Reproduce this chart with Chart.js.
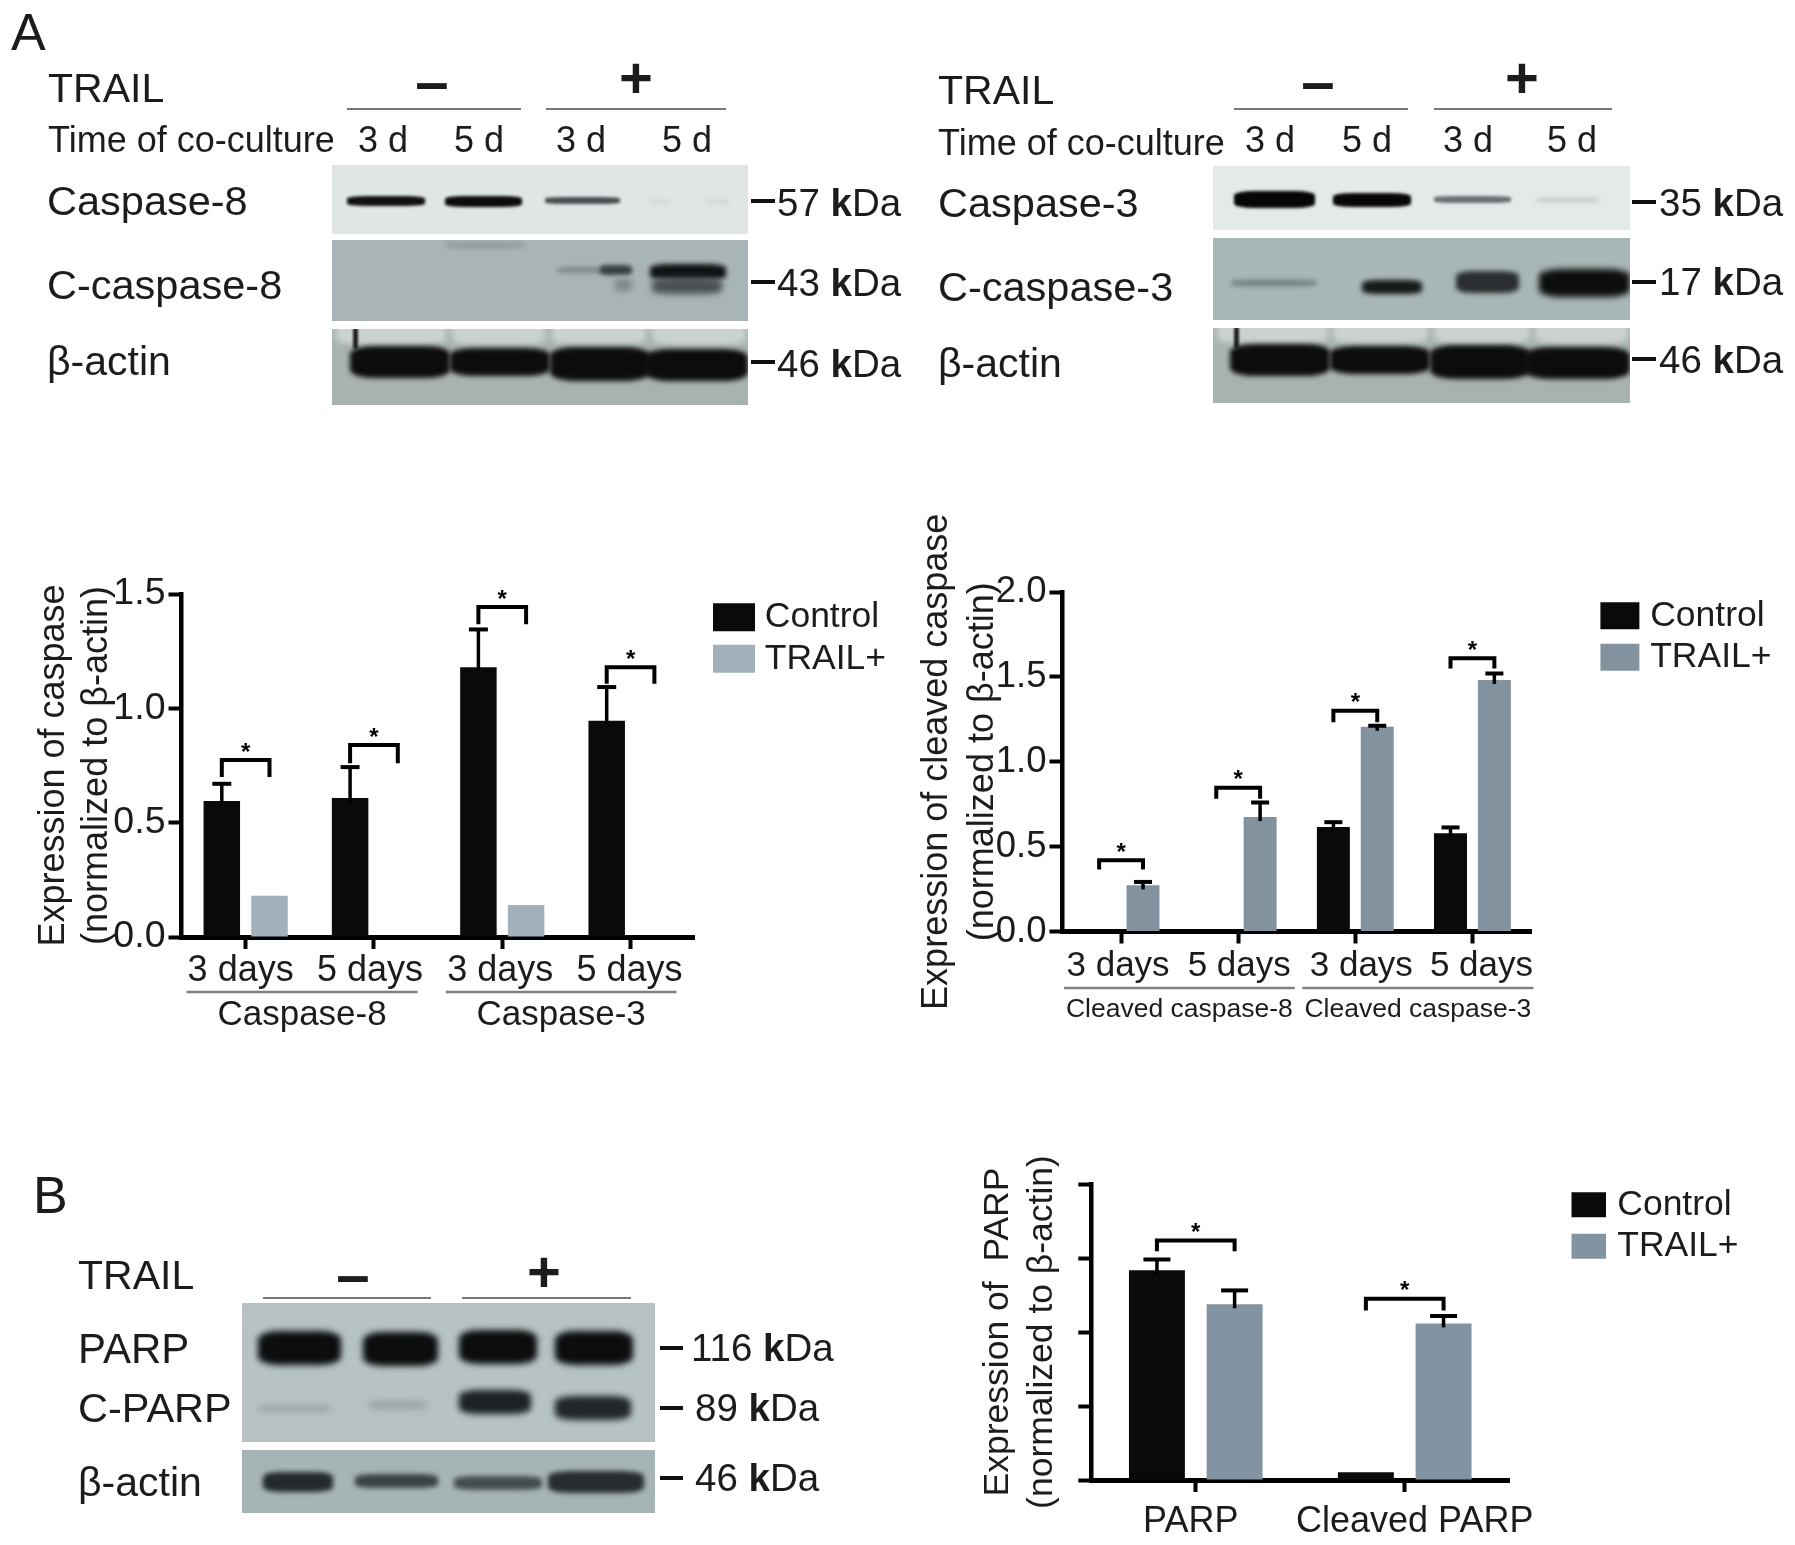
<!DOCTYPE html>
<html>
<head>
<meta charset="utf-8">
<title>TRAIL caspase and PARP expression</title>
<script src="https://cdn.jsdelivr.net/npm/chart.js@4/dist/chart.umd.js"></script>
<style>
    body { margin: 0; background: #fff; width: 1795px; height: 1545px; overflow: hidden; position: relative;
           font-family: "Liberation Sans", Arial, sans-serif; color: #1c1c1c; filter: blur(0.6px); }
    canvas { position: absolute; }
    .txt { position: absolute; white-space: nowrap; line-height: 0; }
    .shape { position: absolute; }
    .panel { position: absolute; overflow: hidden; }
    .band { position: absolute; }
</style>
</head>
<body>
<script>
// panel A, total caspase
const casDays = ["3 days", "5 days", "3 days", "5 days"];
const casControl = [0.595, 0.608, 1.18, 0.946];
const casTrail = [0.18, 0, 0.14, 0];
const casControlErr = [0.67, 0.743, 1.345, 1.093];
const casTrailErr = [null, null, null, null];
const casBracketTop = [0.774, 0.84, 1.443, 1.18];
const casBracketLeg = [0.70, 0.76, 1.368, 1.108];
const casGroups = ["Caspase-8", "Caspase-3"];

// panel A, cleaved caspase
const clvDays = ["3 days", "5 days", "3 days", "5 days"];
const clvControl = [0, 0, 0.615, 0.579];
const clvTrail = [0.272, 0.674, 1.206, 1.482];
const clvControlErr = [null, null, 0.644, 0.613];
const clvTrailErr = [0.292, 0.76, 1.212, 1.52];
const clvBracketTop = [0.42, 0.847, 1.30, 1.61];
const clvBracketLeg = [0.365, 0.782, 1.232, 1.549];
const clvGroups = ["Cleaved caspase-8", "Cleaved caspase-3"];

// panel B, PARP (axis has no printed numbers, 0-2 is only a working scale)
const parpNames = ["PARP", "Cleaved PARP"];
const parpControl = [1.418, 0.052];
const parpTrail = [1.187, 1.058];
const parpControlErr = [1.49, null];
const parpTrailErr = [1.281, 1.108];
const parpBracketTop = [1.618, 1.225];
const parpBracketLeg = [1.546, 1.146];

const FONT = '"Liberation Sans", Arial, sans-serif';
const INK = "#1c1c1c";

// error bars, significance brackets, group lines and legend placement
const figurePlugin = {
    id: "figure",
    beforeDraw(chart, args, opts) {
        // legend sits outside the plot, so its clip box has to move with it
        const legend = chart.legend;
        legend.left = opts.legendX - legend.options.labels.padding;
        legend.top = opts.legendY - legend.options.labels.padding;
        legend.right = chart.width;
        legend.bottom = chart.height;

        // the printed tick labels are not quite centred under their ticks
        const xs = chart.scales.x;
        xs.getLabelItems().forEach((item, i) => {
            item.options.translation[0] = xs.getPixelForTick(i) + opts.labelShift[i];
        });
    },
    afterDatasetsDraw(chart, args, opts) {
        const ctx = chart.ctx;
        const y = chart.scales.y;
        ctx.save();
        ctx.strokeStyle = "#000";
        ctx.fillStyle = "#000";

        // error bars
        opts.errors.forEach((errs, ds) => {
            const meta = chart.getDatasetMeta(ds);
            errs.forEach((v, i) => {
                if (v === null) return;
                const x = meta.data[i].x;
                ctx.lineWidth = 3.5;
                ctx.beginPath();
                ctx.moveTo(x, meta.data[i].y + 4);
                ctx.lineTo(x, y.getPixelForValue(v));
                ctx.stroke();
                ctx.lineWidth = 4;
                ctx.beginPath();
                ctx.moveTo(x - opts.capWidth / 2, y.getPixelForValue(v));
                ctx.lineTo(x + opts.capWidth / 2, y.getPixelForValue(v));
                ctx.stroke();
            });
        });

        // brackets with a star above
        const left = chart.getDatasetMeta(0);
        const right = chart.getDatasetMeta(1);
        opts.bracketTop.forEach((top, i) => {
            const x1 = left.data[i].x;
            const x2 = right.data[i].x;
            ctx.lineWidth = 4;
            ctx.beginPath();
            ctx.moveTo(x1, y.getPixelForValue(opts.bracketLeg[i]));
            ctx.lineTo(x1, y.getPixelForValue(top));
            ctx.lineTo(x2, y.getPixelForValue(top));
            ctx.lineTo(x2, y.getPixelForValue(opts.bracketLeg[i]));
            ctx.stroke();
            ctx.font = "bold 24px " + FONT;
            ctx.textAlign = "center";
            ctx.textBaseline = "middle";
            ctx.fillText("*", (x1 + x2) / 2, y.getPixelForValue(top) - 7);
        });

        // group underlines and names below the axis
        (opts.groups || []).forEach((g, i) => {
            const x = chart.scales.x;
            const first = x.getPixelForTick(i * 2) + g.from;
            const last = x.getPixelForTick(i * 2 + 1) + g.to;
            const base = y.getPixelForValue(0);
            ctx.strokeStyle = "#808080";
            ctx.lineWidth = 2.5;
            ctx.beginPath();
            ctx.moveTo(first, base + g.lineDy);
            ctx.lineTo(last, base + g.lineDy);
            ctx.stroke();
            ctx.fillStyle = INK;
            ctx.font = g.size + "px " + FONT;
            ctx.fillText(g.name, (first + last) / 2, base + g.textDy);
        });
        ctx.restore();
    }
};

function makeChart(o) {
    const canvas = document.createElement("canvas");
    canvas.width = o.box[2];
    canvas.height = o.box[3];
    canvas.style.left = o.box[0] + "px";
    canvas.style.top = o.box[1] + "px";
    document.body.appendChild(canvas);

    return new Chart(canvas.getContext("2d"), {
        type: "bar",
        plugins: [figurePlugin],
        data: {
            labels: o.labels,
            datasets: [
                { label: "Control", data: o.control, backgroundColor: "#0a0a0a", categoryPercentage: o.catPct, barPercentage: o.barPct },
                { label: "TRAIL+", data: o.trail, backgroundColor: o.trailColor, categoryPercentage: o.catPct, barPercentage: o.barPct }
            ]
        },
        options: {
            responsive: false,
            animation: false,
            layout: { padding: { top: o.padTop, right: o.padRight, left: 0, bottom: 0 } },
            scales: {
                x: {
                    z: 1,
                    afterFit(scale) { scale.height = o.xHeight; },
                    border: { display: true, color: "#000", width: 5 },
                    grid: { display: true, offset: false, drawOnChartArea: false, drawTicks: true, tickLength: 12, tickWidth: 4, tickColor: "#000" },
                    ticks: { autoSkip: false, maxRotation: 0, color: INK, padding: o.xPad, font: { family: FONT, size: o.xSize } }
                },
                y: {
                    z: 1,
                    min: 0,
                    max: o.max,
                    afterFit(scale) { scale.width = o.yWidth; },
                    border: { display: true, color: "#000", width: 4.5 },
                    grid: { display: true, drawOnChartArea: false, drawTicks: true, tickLength: 13, tickWidth: 4, tickColor: "#000" },
                    title: {
                        display: true,
                        text: o.yTitle,
                        color: INK,
                        padding: 0,
                        font: { family: FONT, size: o.titleSize, lineHeight: o.titleLine }
                    },
                    ticks: {
                        display: o.showTicks,
                        stepSize: 0.5,
                        color: INK,
                        padding: 3,
                        font: { family: FONT, size: o.ySize },
                        callback: v => v.toFixed(1)
                    }
                }
            },
            plugins: {
                tooltip: { enabled: false },
                legend: {
                    position: "chartArea",
                    align: "start",
                    labels: {
                        boxWidth: o.swatch[0],
                        boxHeight: o.swatch[1],
                        padding: 6,
                        color: INK,
                        font: { family: FONT, size: 35.5, lineHeight: 1 },
                        // a wide same-colour stroke keeps the swatch big and the text close
                        generateLabels(chart) {
                            return Chart.defaults.plugins.legend.labels.generateLabels(chart).map(item => {
                                item.lineWidth = o.swatch[2];
                                item.strokeStyle = item.fillStyle;
                                return item;
                            });
                        }
                    }
                },
                figure: {
                    errors: [o.controlErr, o.trailErr],
                    capWidth: o.capWidth,
                    bracketTop: o.bracketTop,
                    bracketLeg: o.bracketLeg,
                    groups: o.groups,
                    labelShift: o.labelShift,
                    legendX: o.legendX,
                    legendY: o.legendY
                }
            }
        }
    });
}

Chart.defaults.font.family = FONT;

makeChart({
    box: [32, 540, 868, 527], padTop: 54, padRight: 205.3, yWidth: 149.5, xHeight: 130,
    labels: casDays, control: casControl, trail: casTrail, controlErr: casControlErr, trailErr: casTrailErr,
    bracketTop: casBracketTop, bracketLeg: casBracketLeg,
    labelShift: [-5, -4, -2, -1],
    groups: [
        { name: casGroups[0], size: 35, from: -59, to: 43.5, lineDy: 55, textDy: 78 },
        { name: casGroups[1], size: 35, from: -56.5, to: 46, lineDy: 55, textDy: 78 }
    ],
    max: 1.5, catPct: 0.7436, barPct: 0.765, capWidth: 19, trailColor: "#a2b1bb",
    xSize: 36, xPad: 0, ySize: 37.5, showTicks: true,
    yTitle: ["Expression of caspase", "(normalized to β-actin)"], titleSize: 36, titleLine: 1.2,
    swatch: [28, 12, 16], legendX: 687, legendY: 59.5
});

makeChart({
    box: [914, 500, 881, 567], padTop: 92, padRight: 264, yWidth: 148.5, xHeight: 135.5,
    labels: clvDays, control: clvControl, trail: clvTrail, controlErr: clvControlErr, trailErr: clvTrailErr,
    bracketTop: clvBracketTop, bracketLeg: clvBracketLeg,
    labelShift: [-3, 1, 6, 9],
    groups: [
        { name: clvGroups[0], size: 26.5, from: -57, to: 56.5, lineDy: 56.5, textDy: 78 },
        { name: clvGroups[1], size: 26.5, from: -53, to: 61, lineDy: 56.5, textDy: 78 }
    ],
    max: 2, catPct: 0.749, barPct: 0.752, capWidth: 18, trailColor: "#82939f",
    xSize: 35, xPad: 2, ySize: 36.5, showTicks: true,
    yTitle: ["Expression of cleaved caspase", "(normalized to β-actin)"], titleSize: 36, titleLine: 1.27,
    swatch: [26, 13, 14], legendX: 692.4, legendY: 98
});

makeChart({
    box: [975.7, 1150, 819.3, 395], padTop: 34, padRight: 285.8, yWidth: 115.3, xHeight: 65,
    labels: parpNames, control: parpControl, trail: parpTrail, controlErr: parpControlErr, trailErr: parpTrailErr,
    bracketTop: parpBracketTop, bracketLeg: parpBracketLeg,
    labelShift: [-5, 10],
    max: 2, catPct: 0.7436, barPct: 0.72, capWidth: 27, trailColor: "#8293a1",
    xSize: 36, xPad: 8, ySize: 36, showTicks: false,
    yTitle: ["Expression of  PARP", "(normalized to β-actin)"], titleSize: 35.5, titleLine: 1.25,
    swatch: [22, 12, 13], legendX: 601.5, legendY: 37
});

// ---- text and blot panels around the charts ----
function text(str, x, y, size, align, weight) {
    const el = document.createElement("div");
    el.className = "txt";
    el.innerHTML = str;
    el.style.left = x + "px";
    el.style.top = y + "px";
    el.style.fontSize = size + "px";
    if (weight) el.style.fontWeight = weight;
    if (align === "center") el.style.transform = "translateX(-50%)";
    document.body.appendChild(el);
}

function bar(x1, x2, y, h, color) {
    const el = document.createElement("div");
    el.className = "shape";
    el.style.cssText = `left:${x1}px;top:${y - h / 2}px;width:${x2 - x1}px;height:${h}px;background:${color}`;
    document.body.appendChild(el);
}

// bands are [x1, x2, centre y, height, colour, blur]
function blot(x1, y1, x2, y2, bg, bands) {
    const p = document.createElement("div");
    p.className = "panel";
    p.style.cssText = `left:${x1}px;top:${y1}px;width:${x2 - x1}px;height:${y2 - y1}px;background:${bg}`;
    bands.forEach(b => {
        const el = document.createElement("div");
        el.className = "band";
        el.style.cssText = `left:${b[0] - x1}px;top:${b[2] - b[3] / 2 - y1}px;width:${b[1] - b[0]}px;height:${b[3]}px;` +
            `background:${b[4]};filter:blur(${b[5]}px);border-radius:25%`;
        p.appendChild(el);
    });
    document.body.appendChild(p);
}

function kda(num, x, y) {
    text(num + " <b>k</b>Da", x, y, 38.5);
}

text("A", 11, 32, 52);
text("B", 33, 1195, 52);

// left blots
text("TRAIL", 48, 88, 41);
text("–", 432, 82, 60, "center", "bold");
text("+", 636, 78, 58, "center", "bold");
bar(347, 521, 109, 2.5, "#777");
bar(546, 726, 109, 2.5, "#777");
text("Time of co-culture", 48, 140, 36);
text("3 d", 383, 140, 36, "center");
text("5 d", 479, 140, 36, "center");
text("3 d", 581, 140, 36, "center");
text("5 d", 687, 140, 36, "center");
text("Caspase-8", 47, 201, 41.5);
text("C-caspase-8", 47, 285, 41.5);
text("β-actin", 47, 361, 41);
bar(751, 775, 201, 4, "#111");
bar(751, 775, 282, 4, "#111");
bar(751, 775, 362, 4, "#111");
kda("57", 777, 203);
kda("43", 777, 283);
kda("46", 777, 364);

blot(332, 165, 748, 234, "#e0e5e6", [
    [347, 425, 201, 10, "#111", 1.5],
    [445, 522, 201, 11, "#0c0c0c", 1.5],
    [545, 620, 200, 7, "#4a4e50", 1.5],
    [649, 670, 202, 4, "#d0d5d7", 2],
    [705, 729, 202, 4, "#d0d5d7", 2]
]);
blot(332, 240, 748, 321, "#a9b4b6", [
    [445, 525, 245, 6, "#909a9c", 2.5],
    [557, 610, 270, 6, "#7f8a8c", 2],
    [600, 632, 270, 10, "#3a4042", 2],
    [615, 632, 285, 12, "#7c8789", 3],
    [650, 726, 272, 16, "#101214", 2.5],
    [652, 722, 286, 16, "#4a5052", 3]
]);
blot(332, 329, 748, 405, "#a8b3b0", [
    [336, 446, 332, 26, "#cbd3cf", 3],
    [452, 545, 332, 26, "#cbd3cf", 3],
    [552, 646, 332, 26, "#cbd3cf", 3],
    [652, 746, 332, 26, "#cbd3cf", 3],
    [353, 358, 338, 22, "#222", 1],
    [350, 450, 362, 32, "#0c0c0c", 2.5],
    [450, 550, 362, 28, "#0c0c0c", 2.5],
    [550, 650, 364, 34, "#0c0c0c", 2.5],
    [645, 748, 365, 32, "#0c0c0c", 2.5]
]);

// right blots
text("TRAIL", 938, 90, 41);
text("–", 1318, 82, 60, "center", "bold");
text("+", 1522, 78, 58, "center", "bold");
bar(1234, 1408, 109, 2.5, "#777");
bar(1434, 1612, 109, 2.5, "#777");
text("Time of co-culture", 938, 143, 36);
text("3 d", 1270, 140, 36, "center");
text("5 d", 1367, 140, 36, "center");
text("3 d", 1468, 140, 36, "center");
text("5 d", 1572, 140, 36, "center");
text("Caspase-3", 938, 203, 41.5);
text("C-caspase-3", 938, 287, 41.5);
text("β-actin", 938, 363, 41);
bar(1632, 1656, 202, 4, "#111");
bar(1632, 1656, 282, 4, "#111");
bar(1632, 1656, 359, 4, "#111");
kda("35", 1659, 203);
kda("17", 1659, 282);
kda("46", 1659, 360);

blot(1213, 166, 1630, 230, "#e4e9ea", [
    [1234, 1315, 199, 17, "#060606", 1.5],
    [1333, 1411, 200, 14, "#080808", 1.5],
    [1434, 1511, 199, 7, "#6a6f71", 1.5],
    [1536, 1599, 200, 4, "#c0c6c8", 2]
]);
blot(1213, 238, 1630, 320, "#a9b6b7", [
    [1231, 1317, 283, 6, "#6f7a7c", 2.5],
    [1362, 1422, 287, 14, "#17191a", 2.5],
    [1456, 1519, 282, 22, "#2a2e30", 2.5],
    [1539, 1630, 283, 28, "#0c0d0e", 3]
]);
blot(1213, 328, 1630, 403, "#a8b3b0", [
    [1217, 1328, 331, 26, "#cbd3cf", 3],
    [1333, 1428, 331, 26, "#cbd3cf", 3],
    [1434, 1530, 331, 26, "#cbd3cf", 3],
    [1535, 1628, 331, 26, "#cbd3cf", 3],
    [1234, 1239, 337, 22, "#222", 1],
    [1230, 1330, 360, 32, "#0c0c0c", 2.5],
    [1330, 1430, 360, 28, "#0c0c0c", 2.5],
    [1430, 1530, 362, 34, "#0c0c0c", 2.5],
    [1525, 1630, 363, 32, "#0c0c0c", 2.5]
]);

// panel B blots
text("TRAIL", 78, 1275, 41);
text("–", 353, 1275, 60, "center", "bold");
text("+", 544, 1272, 58, "center", "bold");
bar(263, 431, 1298, 2.5, "#777");
bar(462, 631, 1298, 2.5, "#777");
text("PARP", 78, 1349, 42);
text("C-PARP", 78, 1408, 41.5);
text("β-actin", 78, 1482, 41);
bar(660, 683, 1348, 4.5, "#111");
bar(660, 683, 1408, 4.5, "#111");
bar(660, 683, 1478, 4.5, "#111");
kda("116", 691, 1348);
kda("89", 695, 1408);
kda("46", 695, 1478);

blot(242, 1303, 655, 1442, "#b6c2c4", [
    [258, 341, 1348, 34, "#0b0d0e", 3],
    [363, 438, 1349, 34, "#0b0d0e", 3],
    [459, 537, 1347, 34, "#0b0d0e", 3],
    [555, 633, 1348, 34, "#0b0d0e", 3],
    [258, 331, 1408, 7, "#9aa5a8", 3],
    [368, 427, 1405, 8, "#98a3a6", 3],
    [459, 531, 1402, 24, "#1d2123", 3],
    [555, 631, 1408, 24, "#22272a", 3]
]);
blot(242, 1450, 655, 1513, "#a7b4b6", [
    [263, 333, 1482, 20, "#24292c", 2.5],
    [355, 438, 1481, 14, "#3a4144", 2.5],
    [454, 542, 1483, 14, "#454c50", 2.5],
    [548, 644, 1482, 22, "#272c30", 2.5]
]);
</script>
</body>
</html>
